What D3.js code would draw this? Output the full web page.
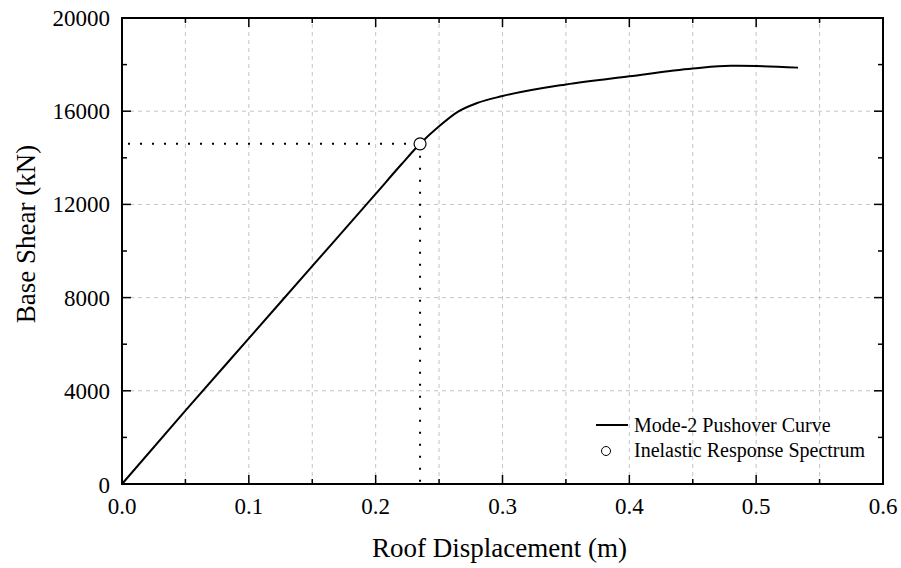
<!DOCTYPE html>
<html>
<head>
<meta charset="utf-8">
<script src="https://cdn.jsdelivr.net/npm/d3@7"></script>
<style>
  body { margin: 0; background: #fff; }
</style>
</head>
<body>
<svg id="chart" width="901" height="568" font-family="'Liberation Serif', 'Times New Roman', Times, serif"></svg>
<script>
// pushover curve (m, kN)
const disp  = [0, 0.05, 0.10, 0.15, 0.20, 0.22, 0.235, 0.25, 0.265, 0.28, 0.30, 0.35, 0.40, 0.45, 0.48, 0.50, 0.533];
const shear = [0, 3150, 6250, 9350, 12450, 13700, 14600, 15350, 15980, 16350, 16650, 17150, 17500, 17830, 17950, 17940, 17870];
// performance point from inelastic response spectrum
const perfDisp = 0.235;
const perfShear = 14600;

const xTicks = [0, 0.1, 0.2, 0.3, 0.4, 0.5, 0.6];
const yTicks = [0, 4000, 8000, 12000, 16000, 20000];

const svg = d3.select("#chart");
const margin = {top: 18, right: 18, bottom: 84, left: 122};
const width = 901 - margin.left - margin.right;
const height = 568 - margin.top - margin.bottom;

const x = d3.scaleLinear().domain([0, 0.6]).range([margin.left, margin.left + width]);
const y = d3.scaleLinear().domain([0, 20000]).range([margin.top + height, margin.top]);

const minorX = d3.range(0, 0.6001, 0.05);
const minorY = d3.range(0, 20001, 2000);

// grid
svg.append("g").selectAll("line")
    .data(minorX.slice(1, -1))
    .join("line")
    .attr("x1", d => x(d)).attr("x2", d => x(d))
    .attr("y1", y(0)).attr("y2", y(20000))
    .attr("stroke", "#c4c4c4").attr("stroke-dasharray", "4,4");

svg.append("g").selectAll("line")
    .data(yTicks.slice(1, -1))
    .join("line")
    .attr("x1", x(0)).attr("x2", x(0.6))
    .attr("y1", d => y(d)).attr("y2", d => y(d))
    .attr("stroke", "#c4c4c4").attr("stroke-dasharray", "4,4");

// inward ticks on all four sides
const isMajorX = d => Math.abs(d * 10 - Math.round(d * 10)) < 1e-6;
const isMajorY = d => d % 4000 === 0;

const ticks = svg.append("g").attr("stroke", "#000").attr("stroke-width", 1.5);
minorX.forEach(d => {
    const len = isMajorX(d) ? 9 : 5;
    ticks.append("line").attr("x1", x(d)).attr("x2", x(d)).attr("y1", y(0)).attr("y2", y(0) - len);
    ticks.append("line").attr("x1", x(d)).attr("x2", x(d)).attr("y1", y(20000)).attr("y2", y(20000) + len);
});
minorY.forEach(d => {
    const len = isMajorY(d) ? 9 : 5;
    ticks.append("line").attr("x1", x(0)).attr("x2", x(0) + len).attr("y1", y(d)).attr("y2", y(d));
    ticks.append("line").attr("x1", x(0.6)).attr("x2", x(0.6) - len).attr("y1", y(d)).attr("y2", y(d));
});

// frame
svg.append("rect")
    .attr("x", x(0)).attr("y", y(20000))
    .attr("width", x(0.6) - x(0)).attr("height", y(0) - y(20000))
    .attr("fill", "none").attr("stroke", "#000").attr("stroke-width", 2);

// tick labels
svg.append("g").selectAll("text")
    .data(xTicks)
    .join("text")
    .attr("x", d => x(d)).attr("y", y(0) + 30)
    .attr("text-anchor", "middle")
    .attr("font-size", 23)
    .text(d => d.toFixed(1));

svg.append("g").selectAll("text")
    .data(yTicks)
    .join("text")
    .attr("x", x(0) - 12).attr("y", d => d === 0 ? y(d) + 9 : y(d) + 8)
    .attr("text-anchor", "end")
    .attr("font-size", 23)
    .text(d => d);

// axis titles
svg.append("text")
    .attr("x", x(0.3) - 3).attr("y", 557)
    .attr("text-anchor", "middle")
    .attr("font-size", 27)
    .text("Roof Displacement (m)");

svg.append("text")
    .attr("transform", `translate(35,${y(10000) - 17}) rotate(-90)`)
    .attr("text-anchor", "middle")
    .attr("font-size", 27)
    .text("Base Shear (kN)");

// dotted guides to performance point
svg.append("line")
    .attr("x1", x(0) + 6).attr("x2", x(perfDisp))
    .attr("y1", y(perfShear)).attr("y2", y(perfShear))
    .attr("stroke", "#000").attr("stroke-width", 2)
    .attr("stroke-dasharray", "2,10");
svg.append("line")
    .attr("x1", x(perfDisp)).attr("x2", x(perfDisp))
    .attr("y1", y(perfShear)).attr("y2", y(0))
    .attr("stroke", "#000").attr("stroke-width", 2)
    .attr("stroke-dasharray", "2,10");

// pushover curve
const pts = disp.map((d, i) => [d, shear[i]]);
svg.append("path")
    .datum(pts)
    .attr("fill", "none")
    .attr("stroke", "#000")
    .attr("stroke-width", 2)
    .attr("d", d3.line().x(d => x(d[0])).y(d => y(d[1])).curve(d3.curveMonotoneX));

svg.append("circle")
    .attr("cx", x(perfDisp)).attr("cy", y(perfShear)).attr("r", 6)
    .attr("fill", "#fff").attr("stroke", "#000").attr("stroke-width", 1.2);

// legend
const lg = svg.append("g");
lg.append("line")
    .attr("x1", 596).attr("x2", 628).attr("y1", 425).attr("y2", 425)
    .attr("stroke", "#000").attr("stroke-width", 2);
lg.append("text").attr("x", 634).attr("y", 432).attr("font-size", 20)
    .text("Mode-2 Pushover Curve");
lg.append("circle").attr("cx", 606).attr("cy", 451).attr("r", 4.5)
    .attr("fill", "#fff").attr("stroke", "#000").attr("stroke-width", 1);
lg.append("text").attr("x", 634).attr("y", 457).attr("font-size", 20)
    .text("Inelastic Response Spectrum");
</script>
</body>
</html>
